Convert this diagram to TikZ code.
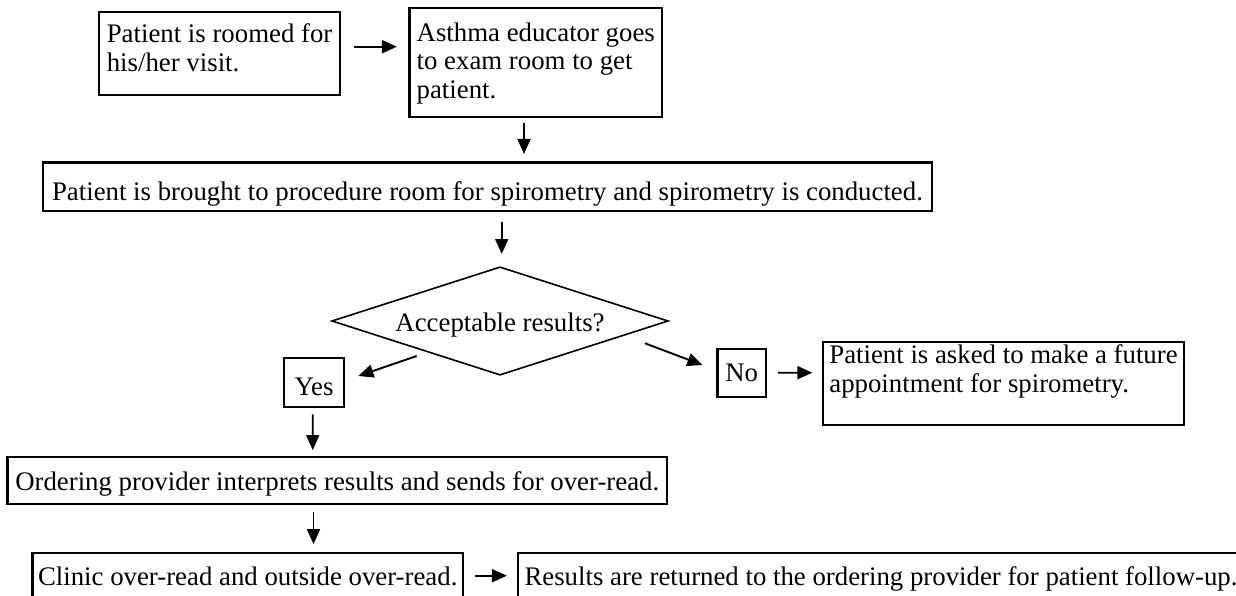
\documentclass[tikz,border=0pt]{standalone}
\usepackage{fontspec}
\setmainfont{Liberation Serif}
\usetikzlibrary{arrows.meta,shapes.geometric,calc}
\begin{document}
\begin{tikzpicture}[x=1pt,y=-1pt,
  every node/.style={font=\fontsize{26.8}{28.4}\selectfont},
  box/.style={draw,line width=2.2pt,inner sep=0pt,align=left},
  decision/.style={draw,diamond,line width=1.6pt,inner sep=0pt,aspect=3.1},
  arr/.style={line width=1.9pt,-{Triangle[length=15pt,width=13pt]}},
]
\path[use as bounding box,fill=white] (0,0) rectangle (1236,596);

\node[box,minimum width=241pt,minimum height=83.3pt,text height=35.4pt,text depth=0pt] (b1) at (219.6,53.4) {Patient is roomed for\\his/her visit.};
\node[box,minimum width=252.5pt,minimum height=108.4pt,text height=71.4pt,text depth=0pt] (b2) at (535.75,62.5) {Asthma educator goes\\to exam room to get\\patient.};
\node[box,minimum width=889pt,minimum height=48pt,text height=28.2pt,text depth=0pt] (b3) at (487.5,186.6) {Patient is brought to procedure room for spirometry and spirometry is conducted.};
\node[decision,minimum width=336.6pt,minimum height=108.4pt,text height=21.4pt,text depth=0pt] (dia) at (500,321) {Acceptable results?};
\node[box,minimum width=60pt,minimum height=48.4pt,text height=25pt,text depth=0pt] (yes) at (314,382.5) {Yes};
\node[box,minimum width=48.5pt,minimum height=47.7pt,text height=17.6pt,text depth=0pt] (no) at (741.75,373) {No};
\node[box,minimum width=361pt,minimum height=83.3pt,text height=17.5pt,text depth=0pt] (fut) at (1003.5,383.35) {Patient is asked to make a future\\appointment for spirometry.};
\node[box,minimum width=659.5pt,minimum height=47.6pt,text height=19pt,text depth=0pt] (ord) at (337.25,480.5) {Ordering provider interprets results and sends for over-read.};
\node[box,minimum width=430.5pt,minimum height=48pt,text height=17.6pt,text depth=0pt] (cli) at (247.75,576.7) {Clinic over-read and outside over-read.};
\node[box,minimum width=726pt,minimum height=48pt,text height=17.6pt,text depth=0pt] (res) at (881,576.7) {Results are returned to the ordering provider for patient follow-up.};

\draw[arr] ($(b1.east)+(13,-6.7)$) -- ($(b2.west)+(-11.5,-15.8)$);
\draw[arr] ($(b2.south)+(-11.75,5)$) -- ($(b3.north)+(36.5,-7.5)$);
\draw[arr] ($(b3.south)+(14.2,10)$) -- ($(dia.north)+(1.7,-12)$);
\draw[arr] ($(dia.center)+(-83.3,35)$) -- ($(yes.east)+(13.3,-6.5)$);
\draw[arr] ($(dia.center)+(145,22.3)$) -- ($(no.west)+(-14,-8)$);
\draw[arr] ($(no.east)+(11,-0.3)$) -- ($(fut.west)+(-9.5,-10.65)$);
\draw[arr] ($(yes.south)+(-1.3,6.5)$) -- ($(ord.north)+(-24.5,-5.5)$);
\draw[arr] ($(ord.south)+(-23.75,7)$) -- ($(cli.north)+(65.75,-7.5)$);
\draw[arr] ($(cli.east)+(11,-1)$) -- ($(res.west)+(-10,-1)$);
\end{tikzpicture}
\end{document}
